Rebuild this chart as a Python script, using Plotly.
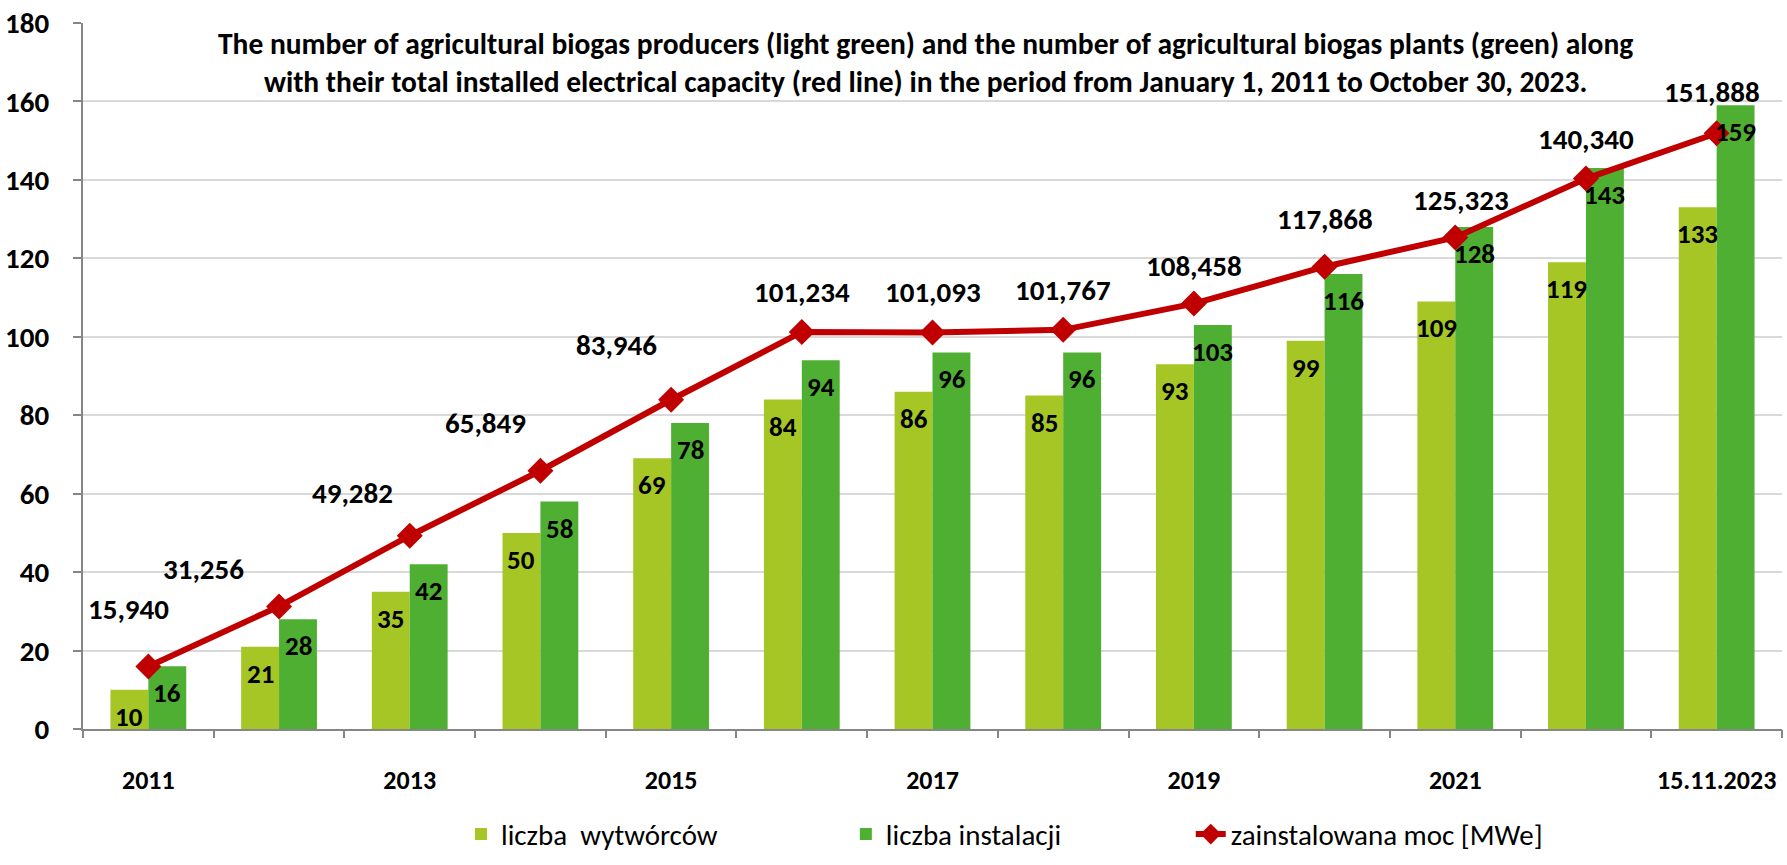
import plotly.graph_objects as go

# ---- data ----
categories = ["2011", "2012", "2013", "2014", "2015", "2016", "2017", "2018",
              "2019", "2020", "2021", "2022", "15.11.2023"]
tick_labels = ["2011", "", "2013", "", "2015", "", "2017", "", "2019", "", "2021", "", "15.11.2023"]
producers = [10, 21, 35, 50, 69, 84, 86, 85, 93, 99, 109, 119, 133]
plants = [16, 28, 42, 58, 78, 94, 96, 96, 103, 116, 128, 143, 159]
capacity = [15.940, 31.256, 49.282, 65.849, 83.946, 101.234, 101.093, 101.767,
            108.458, 117.868, 125.323, 140.340, 151.888]

name_producers = "liczba  wytwórców"
name_plants = "liczba instalacji"
name_capacity = "zainstalowana moc [MWe]"
title_text = ("The number of agricultural biogas producers (light green) and the number of "
              "agricultural biogas plants (green) along<br>"
              "with their total installed electrical capacity (red line) in the period from "
              "January 1, 2011 to October 30, 2023.")

# ---- style ----
FONT = "Carlito, Calibri, Lato, sans-serif"
C_LIGHT = "#A5C625"
C_DARK = "#4FAF33"
C_RED = "#C00000"
GRID = "#D9D9D9"
AXIS = "#868686"

# label offsets (px, right / up) for capacity labels relative to their markers
cap_label_shift = [(-20, 57), (-76, 37), (-57, 43), (-55, 48), (-55, 55), (0, 40), (0, 40),
                   (0, 40), (0, 38), (0, 48), (6, 37), (0, 40), (-5, 41)]

idx = list(range(len(categories)))

fig = go.Figure()
fig.add_bar(x=idx, y=producers, name=name_producers, marker_color=C_LIGHT,
            marker_line_width=0, legend="legend", showlegend=True)
fig.add_bar(x=idx, y=plants, name=name_plants, marker_color=C_DARK,
            marker_line_width=0, legend="legend2", showlegend=True)
fig.add_scatter(x=idx, y=capacity, name=name_capacity, mode="lines+markers",
                line=dict(color=C_RED, width=6),
                marker=dict(symbol="diamond", size=20, color=C_RED),
                legend="legend3", showlegend=True)

BAR_LBL = dict(family=FONT, size=27, color="black", weight="bold")
CAP_LBL = dict(family=FONT, size=29, color="black", weight="bold")
ann = []
for i, v in zip(idx, producers):
    ann.append(dict(x=i, y=v, xref="x", yref="y", text=str(v), showarrow=False,
                    xshift=-19, yshift=-8, yanchor="top", font=BAR_LBL))
for i, v in zip(idx, plants):
    ann.append(dict(x=i, y=v, xref="x", yref="y", text=str(v), showarrow=False,
                    xshift=19, yshift=-8, yanchor="top", font=BAR_LBL))
for (i, v), (dx, dy) in zip(zip(idx, capacity), cap_label_shift):
    ann.append(dict(x=i, y=v, xref="x", yref="y", text=f"{v:.3f}".replace(".", ","),
                    showarrow=False, xshift=dx, yshift=dy, yanchor="middle", font=CAP_LBL))
ann.append(dict(x=0.496, y=0.943, xref="paper", yref="paper", text=title_text, showarrow=False,
                xanchor="center", yanchor="middle", align="center",
                font=dict(family=FONT, size=29.5, color="black", weight="bold")))

legend_common = dict(orientation="h", yanchor="middle", y=-0.149, xanchor="left",
                     font=dict(family=FONT, size=29, color="black"),
                     bgcolor="rgba(0,0,0,0)")

fig.update_layout(
    width=1787, height=865,
    margin=dict(l=83, r=5, t=23, b=113),
    paper_bgcolor="white", plot_bgcolor="white",
    barmode="group", bargap=0.42, bargroupgap=0,
    font=dict(family=FONT, color="black"),
    annotations=ann,
    showlegend=True,
    legend=dict(x=0.2225, **legend_common),
    legend2=dict(x=0.449, **legend_common),
    legend3=dict(x=0.652, **legend_common),
    xaxis=dict(range=[-0.5, len(categories) - 0.5], tickmode="array", tickvals=idx, ticktext=tick_labels,
               ticks="", showline=True, linecolor=AXIS, linewidth=2, showgrid=False,
               zeroline=False, ticklabelstandoff=27,
               tickfont=dict(family=FONT, size=26, color="black", weight="bold")),
    yaxis=dict(range=[0, 180], dtick=20, ticks="outside", ticklen=8, tickcolor=AXIS, tickwidth=2,
               showline=True, linecolor=AXIS, linewidth=2, showgrid=True, gridcolor=GRID,
               gridwidth=2, zeroline=False, ticklabelstandoff=18,
               tickfont=dict(family=FONT, size=29, color="black", weight="bold")),
    xaxis2=dict(overlaying="x", range=[-0.5, len(categories) - 0.5], tickmode="array",
                tickvals=[i - 0.5 for i in range(len(categories) + 1)], ticktext=[""] * (len(categories) + 1),
                ticks="outside", ticklen=8, tickcolor=AXIS, tickwidth=2, showgrid=False,
                showline=False, zeroline=False, side="bottom", anchor="y"),
)
# invisible trace to activate the boundary tick axis
fig.add_scatter(x=[idx[0]], y=[0], xaxis="x2", yaxis="y", mode="markers",
                marker=dict(opacity=0), showlegend=False, hoverinfo="skip")

fig.write_html("out.html", config={"displayModeBar": False},
               post_script="document.body.style.margin='0';")
